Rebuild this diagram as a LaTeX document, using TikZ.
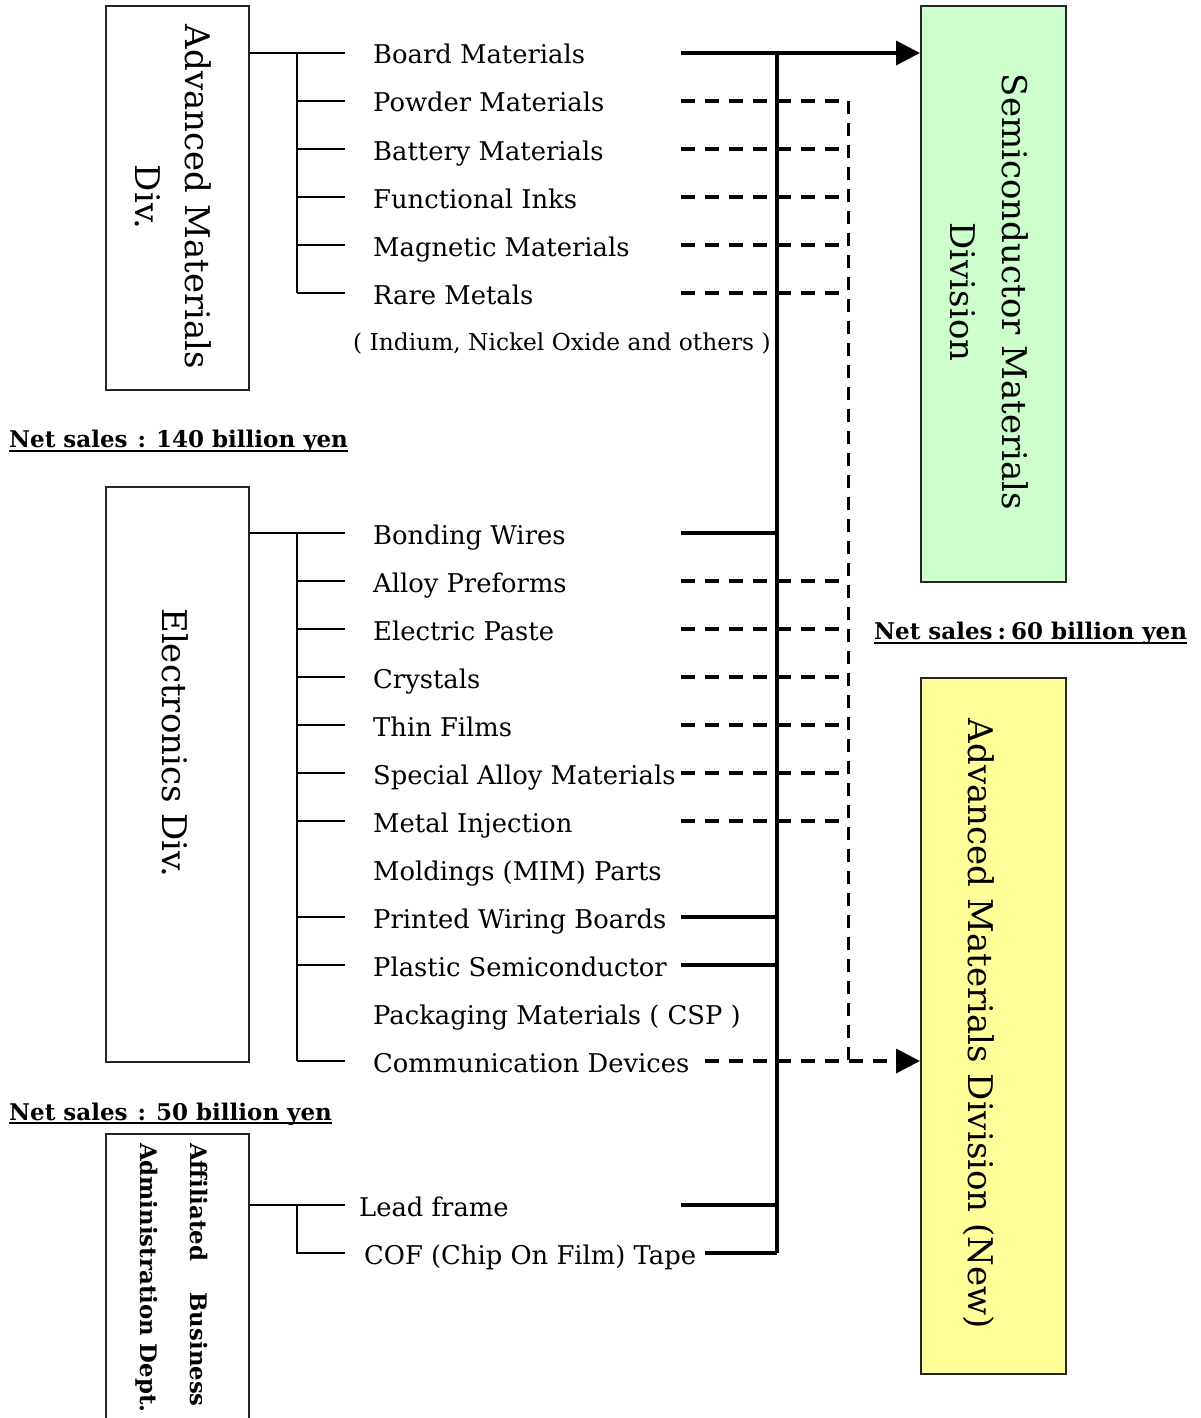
\documentclass[tikz,border=0pt]{standalone}
\usepackage{fontspec}
\setmainfont{DejaVu Serif}
\usetikzlibrary{arrows.meta}
\definecolor{semigreen}{HTML}{CCFFCC}
\definecolor{newyellow}{HTML}{FFFF99}
\begin{document}
\begin{tikzpicture}[x=1pt,y=-1pt,
  divbox/.style={draw=black!85, line width=2pt, inner sep=0pt, anchor=north west},
  boxtext/.style={rotate=-90, anchor=base, inner sep=0pt, font=\fontsize{34}{40}\selectfont},
  smalltext/.style={rotate=-90, inner sep=0pt, font=\bfseries\fontsize{22.8}{28}\selectfont},
  item/.style={anchor=base west, inner sep=0pt, font=\fontsize{25.8}{30}\selectfont},
  note/.style={anchor=base west, inner sep=0pt, font=\fontsize{23.3}{28}\selectfont},
  sales/.style={anchor=base west, inner sep=0pt, font=\bfseries\fontsize{23}{28}\selectfont},
  tree/.style={line width=2pt},
  link/.style={line width=3.4pt},
  dlink/.style={line width=3.4pt, dash pattern=on 14pt off 10pt},
  vdash/.style={line width=3pt, dash pattern=on 13pt off 9pt},
  tip/.style={-{Triangle[length=24pt,width=24pt]}}
]
\useasboundingbox (0,0) rectangle (1200,1418);

% ---- division boxes ----
\node[divbox, minimum width=143pt, minimum height=384pt] (b1) at (105,5) {};
\node[boxtext] (b1t1) at (185,197) {Advanced Materials};
\node[boxtext] (b1t2) at (135,197) {Div.};

\node[divbox, minimum width=143pt, minimum height=575pt] (b2) at (105,486) {};
\node[boxtext] (b2t) at (162,743) {Electronics Div.};

\node[divbox, minimum width=143pt, minimum height=320pt] (b3) at (105,1133) {};
\node[smalltext, anchor=base west] (b3a) at (190,1143) {Affiliated};
\node[smalltext, anchor=base east] (b3b) at (190,1407) {Business};
\node[smalltext, anchor=base west] (b3c) at (140,1143) {Administration Dept.};

\node[divbox, fill=semigreen, minimum width=145pt, minimum height=576pt] (semi) at (920,5) {};
\node[boxtext] (semit1) at (1002,292) {Semiconductor Materials};
\node[boxtext] (semit2) at (950,292) {Division};

\node[divbox, fill=newyellow, minimum width=145pt, minimum height=696pt] (adv) at (920,677) {};
\node[boxtext] (advt) at (968,1024) {Advanced Materials Division (New)};

% ---- net sales ----
\node[sales] (s1) at (9,447) {Net sales\hspace{10pt}:\hspace{10pt}140 billion yen};
\draw[line width=1.6pt] ([yshift=-4pt]s1.base west) -- ([yshift=-4pt]s1.base east);
\node[sales] (s2) at (9,1120) {Net sales\hspace{10pt}:\hspace{10pt}50 billion yen};
\draw[line width=1.6pt] ([yshift=-3pt]s2.base west) -- ([yshift=-3pt]s2.base east);
\node[sales] (s3) at (874,639) {Net sales\hspace{5pt}:\hspace{5pt}60 billion yen};
\draw[line width=1.6pt] ([yshift=-4pt]s3.base west) -- ([yshift=-4pt]s3.base east);

% ---- items ----
\foreach \n/\y/\t in {a1/53/Board Materials, a2/101/Powder Materials, a3/149/Battery Materials,
  a4/197/Functional Inks, a5/245/Magnetic Materials, a6/293/Rare Metals,
  e1/533/Bonding Wires, e2/581/Alloy Preforms, e3/629/Electric Paste, e4/677/Crystals,
  e5/725/Thin Films, e6/773/Special Alloy Materials, e7/821/Metal Injection,
  e8/869/Moldings (MIM) Parts, e9/917/Printed Wiring Boards, e10/965/Plastic Semiconductor,
  e11/1013/Packaging Materials ( CSP ), e12/1061/Communication Devices} {
  \node[item] (\n) at (373,{\y+11}) {\t};
  \coordinate (\n l) at (345,\y);
  \coordinate (\n r) at (681,\y);
}
\node[item] (f1) at (359,1216) {Lead frame};
\node[item] (f2) at (364,1264) {COF (Chip On Film) Tape};
\coordinate (f1l) at (345,1205);
\coordinate (f2l) at (345,1253);
\coordinate (f1r) at (681,1205);
\coordinate (f2r) at (705,1253);
\coordinate (e12r) at (705,1061);
\node[note] (n1) at (353,350) {( Indium, Nickel Oxide and others )};

% ---- left trees ----
\coordinate (t1) at (297,0);
\draw[tree] (b1.east |- a1l) -- (a1l);
\draw[tree] (t1 |- a1l) -- (t1 |- a6l);
\foreach \n in {a2,a3,a4,a5,a6} \draw[tree] (t1 |- \n l) -- (\n l);

\draw[tree] (b2.east |- e1l) -- (e1l);
\draw[tree] (t1 |- e1l) -- (t1 |- e12l);
\foreach \n in {e2,e3,e4,e5,e6,e7,e9,e10,e12} \draw[tree] (t1 |- \n l) -- (\n l);

\draw[tree] (b3.east |- f1l) -- (f1l);
\draw[tree] (t1 |- f1l) -- (t1 |- f2l) -- (f2l);

% ---- right connectors ----
\coordinate (bus) at (777,0);
\coordinate (dv) at (848,0);
\draw[link] (bus |- a1r) -- (bus |- f2r);
\draw[link, tip] (a1r) -- (semi.west |- a1r);
\foreach \n in {e1,e9,e10,f1,f2} \draw[link] (\n r) -- (bus |- \n r);
\foreach \n in {a2,a3,a4,a5,a6,e2,e3,e4,e5,e6,e7} \draw[dlink] (\n r) -- (dv |- \n r);
\draw[vdash] (dv |- a2r) -- (dv |- e12r);
\draw[dlink, tip] (e12r) -- (adv.west |- e12r);
\end{tikzpicture}
\end{document}
